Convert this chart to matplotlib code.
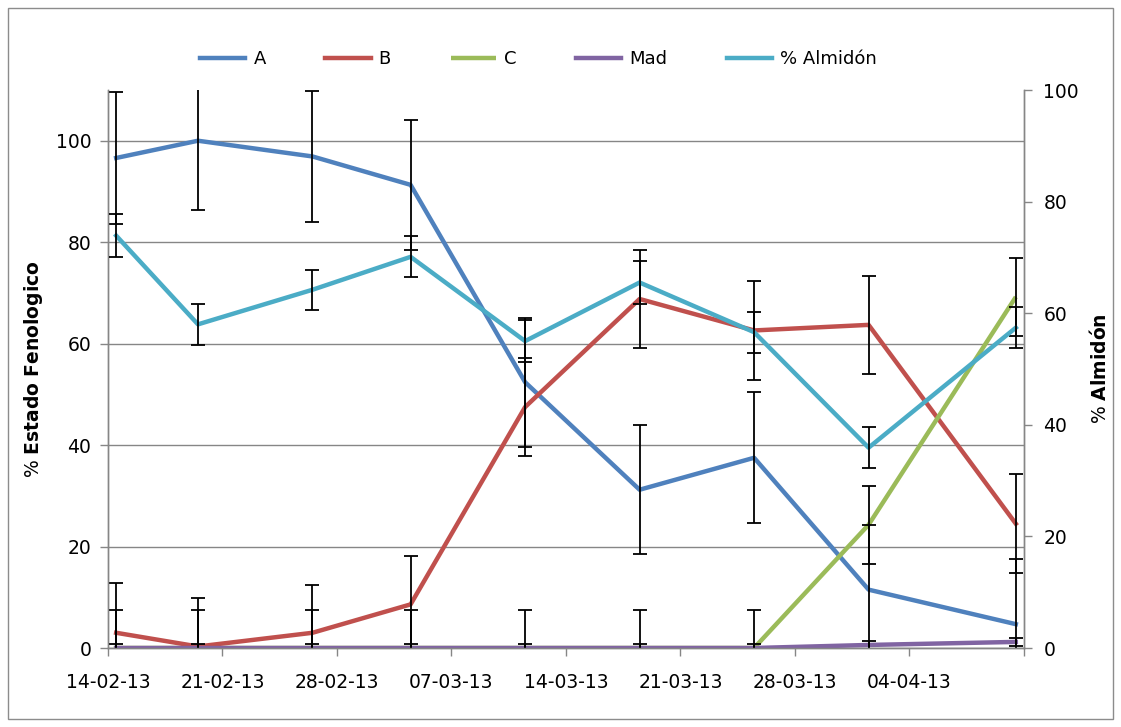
import datetime as dt

import matplotlib
matplotlib.use("Agg")
import matplotlib.pyplot as plt
from matplotlib.patches import Rectangle

# sampling dates and phenological stage percentages (left axis)
fechas = ["14-02-13", "19-02-13", "26-02-13", "04-03-13", "11-03-13",
          "18-03-13", "25-03-13", "01-04-13", "10-04-13"]
A = [96.6, 100.0, 96.9, 91.3, 52.4, 31.2, 37.5, 11.5, 4.7]
A_err = [13.0, 13.6, 13.0, 12.8, 12.7, 12.7, 12.9, 12.7, 12.8]
B = [3.0, 0.3, 3.0, 8.6, 47.5, 68.8, 62.6, 63.7, 24.5]
B_err = [9.9, 9.6, 9.4, 9.6, 9.7, 9.6, 9.7, 9.7, 9.8]
C = [0.0, 0.0, 0.0, 0.0, 0.0, 0.0, 0.0, 24.3, 69.2]
C_err = [7.5, 7.5, 7.5, 7.5, 7.5, 7.5, 7.5, 7.7, 7.6]
Mad = [0.0, 0.0, 0.0, 0.0, 0.0, 0.0, 0.0, 0.6, 1.2]
Mad_err = [0.8, 0.8, 0.8, 0.8, 0.8, 0.8, 0.8, 0.7, 0.8]

# starch percentage (right axis)
almidon = [73.9, 58.0, 64.2, 70.1, 55.0, 65.5, 56.6, 35.9, 57.4]
almidon_err = [3.8, 3.7, 3.6, 3.7, 3.8, 3.8, 3.7, 3.7, 3.7]

colors = {"A": "#4F81BD", "B": "#C0504D", "C": "#9BBB59",
          "Mad": "#8064A2", "alm": "#4BACC6"}

# each sample sits in the middle of its day
x = [dt.datetime.strptime(f, "%d-%m-%y") + dt.timedelta(hours=12) for f in fechas]
x0 = dt.datetime(2013, 2, 14)
x1 = dt.datetime(2013, 4, 11)
ticks = [x0 + dt.timedelta(days=7 * k) for k in range(9)]

plt.rcParams["font.family"] = "DejaVu Sans"
fig = plt.figure(figsize=(11.21, 7.27), dpi=100)
ax = fig.add_axes([108 / 1121, 1 - 648 / 727, (1024 - 108) / 1121, (648 - 90) / 727])
ax2 = ax.twinx()

grid_c = "#868686"
err_kw = dict(fmt="none", ecolor="black", elinewidth=1.3, capsize=5, capthick=1.3,
              zorder=4, clip_on=True)

series = [("A", A, A_err, colors["A"]), ("B", B, B_err, colors["B"]),
          ("C", C, C_err, colors["C"]), ("Mad", Mad, Mad_err, colors["Mad"])]
handles = []
for name, vals, err, col in series:
    if name == "C":
        # C stays at zero until the line starts, hidden under Mad
        (h,) = ax.plot(x[6:], vals[6:], color=col, lw=3.2, zorder=3,
                       solid_capstyle="butt", label=name)
        ax.plot(x[:7], vals[:7], color=col, lw=3.2, zorder=2)
    else:
        (h,) = ax.plot(x, vals, color=col, lw=3.2, zorder=3, label=name)
    ax.errorbar(x, vals, yerr=err, **err_kw)
    handles.append(h)

(h,) = ax2.plot(x, almidon, color=colors["alm"], lw=3.2, zorder=3, label="% Almidón")
ax2.errorbar(x, almidon, yerr=almidon_err, **err_kw)
handles.append(h)

ax.set_xlim(x0, x1)
ax.set_ylim(0, 110)
ax2.set_ylim(0, 100)
ax.set_yticks(range(0, 101, 20))
ax2.set_yticks(range(0, 101, 20))
ax.set_xticks(ticks)
ax.set_xticklabels([t.strftime("%d-%m-%y") if t < x1 else "" for t in ticks])

for a in (ax, ax2):
    for s in a.spines.values():
        s.set_color(grid_c)
        s.set_linewidth(1.0)
    a.spines["top"].set_visible(False)
    a.tick_params(colors=grid_c, labelcolor="black", labelsize=13.5, length=6, width=1.0)
ax.tick_params(axis="x", pad=12)
ax.tick_params(axis="y", pad=6)
ax2.tick_params(axis="y", pad=8)

ax.grid(axis="y", color=grid_c, lw=1.0)
ax.set_axisbelow(True)

ax.set_ylabel(r"% $\mathbf{Estado\ Fenologico}$", fontsize=13.5, labelpad=8)
ax2.set_ylabel(r"% $\mathbf{Almid\acute{o}n}$", fontsize=13.5, labelpad=8)

ax.legend(handles=handles, loc="center", bbox_to_anchor=(0.47, 1.055), ncol=5,
          frameon=False, fontsize=13, handlelength=2.5, handletextpad=0.45,
          columnspacing=3.3)

fig.patches.append(Rectangle((8 / 1121, 8 / 727), 1 - 16 / 1121, 1 - 16 / 727,
                             transform=fig.transFigure, fill=False,
                             edgecolor="#8c8c8c", lw=1.0))

fig.savefig("out.png", dpi=100)
